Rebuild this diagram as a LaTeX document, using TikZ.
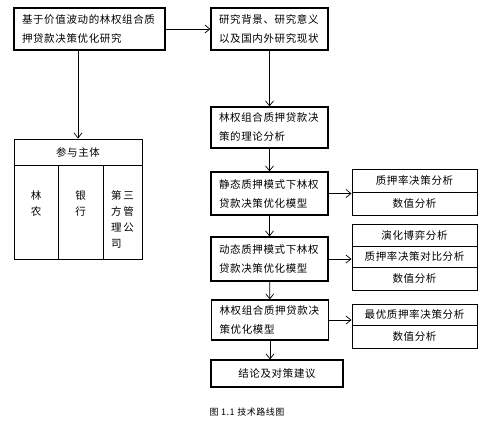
\documentclass[tikz,border=0pt]{standalone}
\usepackage{fontspec}
\setmainfont[LetterSpace=6]{Noto Sans CJK SC}
\usetikzlibrary{arrows.meta}

\tikzset{
  stepbox/.style={draw, line width=1.2pt, text width=#1, inner xsep=8pt, inner ysep=0pt, align=left, font=\fontsize{10.5}{19}\selectfont},
  subcell/.style={draw, line width=1pt, minimum width=125pt, minimum height=#1, inner sep=0pt, font=\fontsize{10.5}{12}\selectfont},
  tabcell/.style={draw, line width=1pt, inner sep=0pt},
  tabtext/.style={anchor=north, align=left, inner sep=0pt, font=\fontsize{10.5}{16}\selectfont},
  flow/.style={-{Straight Barb[length=5pt,width=8pt]}, line width=0.7pt}
}

\begin{document}
\begin{tikzpicture}[x=1pt,y=-1pt]
\useasboundingbox (0,0) rectangle (487,424);

% Topic and background
\node[stepbox=135pt, minimum height=42pt] (topic) at (89.5,29) {基于价值波动的林权组合质\\押贷款决策优化研究};
\node[stepbox=101pt, minimum height=42pt] (backgr) at (269.5,29) {研究背景、研究意义\\以及国内外研究现状};
\draw[flow] (topic) -- (backgr);

% Participants table
\node[tabcell, minimum width=128pt, minimum height=26pt, font=\fontsize{10.5}{12}\selectfont] (tbhead) at (78,152) {参与主体};
\node[tabcell, minimum width=44pt, minimum height=94pt] (colfarm) at (36,212) {};
\node[tabcell, minimum width=45pt, minimum height=94pt] (colbank) at (80.5,212) {};
\node[tabcell, minimum width=39pt, minimum height=94pt] (colthird) at (122.5,212) {};
\node[tabtext] (farmtxt) at ([yshift=-26pt]colfarm.north) {林\\农};
\node[tabtext] (banktxt) at ([yshift=-26pt]colbank.north) {银\\行};
\node[tabtext] (thirdtxt) at ([yshift=-26pt]colthird.north) {第\hspace{2pt}三\\方\hspace{2pt}管\\理\hspace{2pt}公\\司};
\draw[flow] (topic.south -| tbhead.north) -- (tbhead.north);

% Main chain
\node[stepbox=101pt, minimum height=41pt] (theory) at (269.5,127.5) {林权组合质押贷款决\\策的理论分析};
\node[stepbox=101pt, minimum height=43pt] (static) at (269.5,193.5) {静态质押模式下林权\\贷款决策优化模型};
\node[stepbox=101pt, minimum height=44pt] (dynamic) at (269.5,259) {动态质押模式下林权\\贷款决策优化模型};
\node[stepbox=101pt, minimum height=40pt] (combo) at (270,320) {林权组合质押贷款决\\策优化模型};
\node[stepbox=116pt, minimum height=27pt, align=center] (concl) at (277,373.5) {结论及对策建议};
\draw[flow] (backgr) -- (theory);
\draw[flow] (theory) -- (static);
\draw[flow] (static) -- (dynamic);
\draw[flow] (dynamic) -- (combo);
\draw[flow] (combo.south) -- (combo.south |- concl.north);

% Sub analyses
\node[subcell=23pt] (rate1) at (414.5,180.5) {质押率决策分析};
\node[subcell=23pt] (num1) at (414.5,203.5) {数值分析};
\node[subcell=22pt] (game2) at (414.5,235) {演化博弈分析};
\node[subcell=21pt] (rate2) at (414.5,256.5) {质押率决策对比分析};
\node[subcell=23pt] (num2) at (414.5,278.5) {数值分析};
\node[subcell=21pt] (rate3) at (414.5,314.5) {最优质押率决策分析};
\node[subcell=23pt] (num3) at (414.5,336.5) {数值分析};
\draw[flow] (static.east) -- (static.east -| rate1.west);
\draw[flow] (dynamic.east) -- (dynamic.east -| rate2.west);
\draw[flow] (combo.east) -- (combo.east -| rate3.west);

% Caption
\node[font=\fontsize{9}{10}\selectfont] (caption) at (247,412) {图 1.1 技术路线图};
\end{tikzpicture}
\end{document}
